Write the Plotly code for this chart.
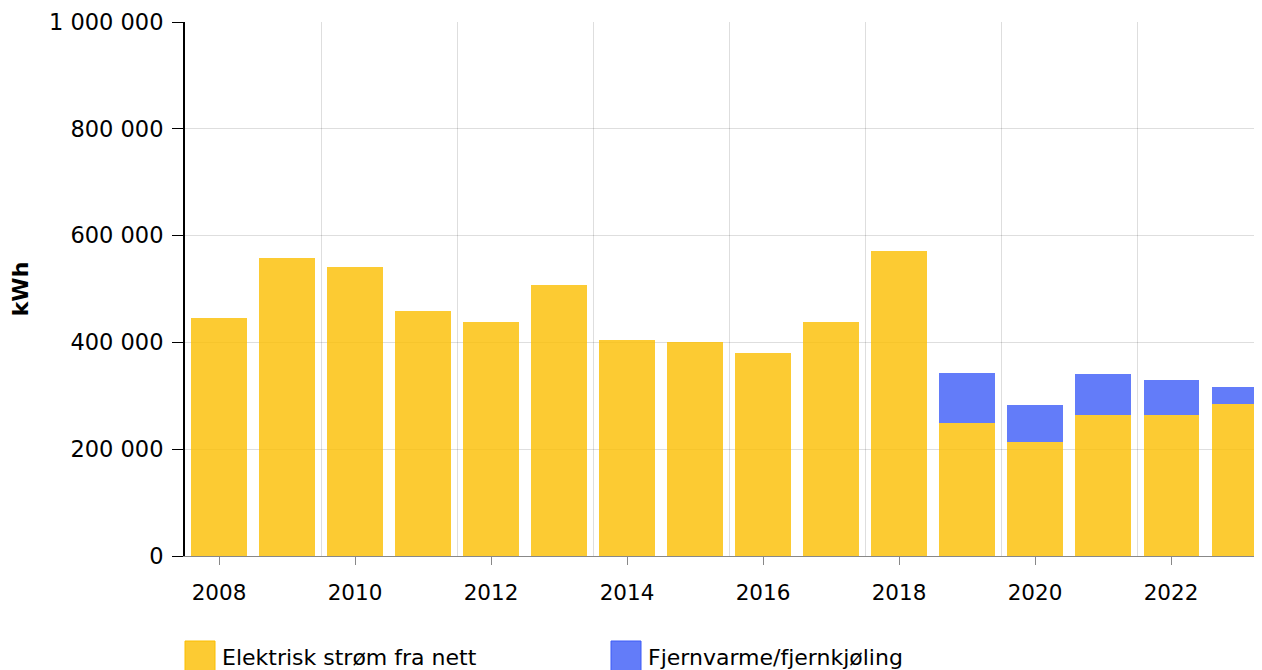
import plotly.graph_objects as go

years = list(range(2008, 2024))
elektrisk = [446000, 558000, 541000, 459000, 438000, 507000, 404000, 401000,
             380000, 438000, 571000, 249000, 213000, 264000, 264000, 285000]
fjernvarme = [0, 0, 0, 0, 0, 0, 0, 0, 0, 0, 0, 94000, 70000, 77000, 66000, 31000]
y_ticks = [0, 200000, 400000, 600000, 800000, 1000000]
x_ticks = list(range(2008, 2024, 2))
x_grid = [2009.5, 2011.5, 2013.5, 2015.5, 2017.5, 2019.5, 2021.5]
series_names = ["Elektrisk strøm fra nett", "Fjernvarme/fjernkjøling"]
series_colors = ["rgba(251,190,0,0.8)", "rgba(60,91,248,0.8)"]

W, H = 1246, 662
ML, MR, MT, MB = 177, 0, 14, 114
OFF = 8  # page body margin

fig = go.Figure()
for name, vals, col in zip(series_names, [elektrisk, fjernvarme], series_colors):
    fig.add_trace(go.Bar(x=years, y=vals, name=name,
                         marker=dict(color=col, line=dict(width=0))))

pw = W - ML - MR
ph = H - MT - MB


def py(y_px):
    return 1 - (y_px - OFF - MT) / ph


leg_x = [0, 426]  # px offset from plot left
for i, (name, col) in enumerate(zip(series_names, series_colors)):
    fig.add_shape(type="rect", xref="paper", yref="paper",
                  x0=leg_x[i] / pw, x1=(leg_x[i] + 30) / pw,
                  y0=py(671), y1=py(641),
                  fillcolor=col, line=dict(color=col.replace("0.8", "1"), width=1))
    fig.add_annotation(xref="paper", yref="paper", x=(leg_x[i] + 35) / pw,
                       y=py(657), text=name, showarrow=False,
                       xanchor="left", yanchor="middle", font=dict(size=22))

fig.update_layout(
    barmode="stack",
    bargap=0.19,
    width=W, height=H,
    margin=dict(l=ML, r=MR, t=MT, b=MB),
    plot_bgcolor="white", paper_bgcolor="white",
    separators=", ",
    font=dict(family="DejaVu Sans", size=21.5, color="black"),
    showlegend=False,
    xaxis=dict(range=[2007.5, 2023.22], tickvals=x_ticks,
               showgrid=False,
               minor=dict(tickvals=x_grid, showgrid=True, gridcolor="rgba(0,0,0,0.13)",
                          gridwidth=1, ticks=""),
               showline=True, linecolor="#888888", linewidth=1,
               ticks="outside", ticklen=8, tickcolor="#888888", zeroline=False,
               ticklabelstandoff=9, tickfont=dict(size=21.5)),
    yaxis=dict(range=[0, 1000000], tickvals=y_ticks, tickformat=",d",
               showgrid=True, gridcolor="rgba(0,0,0,0.13)", gridwidth=1,
               showline=True, linecolor="black", linewidth=2,
               ticks="outside", ticklen=11, tickcolor="black", zeroline=False,
               ticklabelstandoff=4, tickfont=dict(size=22.5),
               title=dict(text="<b>kWh</b>", standoff=21, font=dict(size=22))),
)

fig.write_html("out.html")
